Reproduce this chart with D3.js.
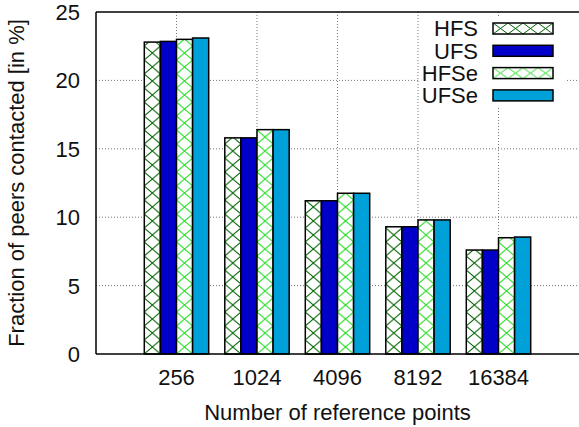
<!DOCTYPE html>
<html>
<head>
<meta charset="utf-8">
<script src="https://cdn.jsdelivr.net/npm/d3@7"></script>
<style>
  html, body { margin: 0; padding: 0; background: #fff; }
  svg { display: block; font-family: "Liberation Sans", Arial, sans-serif; }
</style>
</head>
<body>
<svg id="chart" width="579" height="427"></svg>
<script>
const categories = ["256", "1024", "4096", "8192", "16384"];
const seriesNames = ["HFS", "UFS", "HFSe", "UFSe"];
const HFS  = [22.8, 15.8, 11.2, 9.3, 7.6];
const UFS  = [22.85, 15.8, 11.2, 9.3, 7.6];
const HFSe = [23.0, 16.4, 11.75, 9.8, 8.5];
const UFSe = [23.1, 16.4, 11.75, 9.8, 8.55];
const yTicks = [0, 5, 10, 15, 20, 25];
const xLabel = "Number of reference points";
const yLabel = "Fraction of peers contacted [in %]";

const seriesValues = [HFS, UFS, HFSe, UFSe];
const styles = [
  { type: "pattern", stroke: "#006400" },
  { type: "solid", fill: "#0000c8" },
  { type: "pattern", stroke: "#22dd22" },
  { type: "solid", fill: "#00a0d8" }
];

const svg = d3.select("#chart");
const pLeft = 96, pRight = 579, pTop = 12, pBottom = 354;
const FS = 22;

const x = d3.scaleLinear().domain([-1, 5]).range([pLeft, pRight]);
const y = d3.scaleLinear().domain([0, 25]).range([pBottom, pTop]);
const barW = x(0.2) - x(0);

const defs = svg.append("defs");
function makePattern(id, stroke, ox, oy, w, h) {
  const p = defs.append("pattern")
    .attr("id", id)
    .attr("patternUnits", "userSpaceOnUse")
    .attr("x", ox).attr("y", oy)
    .attr("width", w).attr("height", h);
  p.append("rect").attr("width", w).attr("height", h).attr("fill", "#fff");
  p.append("path")
    .attr("d", `M0,0L${w},${h}M${w},0L0,${h}`)
    .attr("stroke", stroke).attr("stroke-width", 1).attr("fill", "none");
  return `url(#${id})`;
}

// grid lines
const grid = svg.append("g");
yTicks.filter(t => t > 0 && t < 25).forEach(t => {
  grid.append("line")
    .attr("x1", pLeft).attr("x2", pRight)
    .attr("y1", y(t)).attr("y2", y(t))
    .attr("stroke", "#777").attr("stroke-width", 1)
    .attr("stroke-dasharray", "1,2");
});
categories.forEach((c, i) => {
  grid.append("line")
    .attr("x1", x(i)).attr("x2", x(i))
    .attr("y1", pTop).attr("y2", pBottom)
    .attr("stroke", "#777").attr("stroke-width", 1)
    .attr("stroke-dasharray", "1,2");
});

// bars
const bars = svg.append("g");
seriesValues.forEach((vals, s) => {
  vals.forEach((v, i) => {
    const bx = x(i - 0.4 + 0.2 * s);
    const by = y(v);
    let fill;
    if (styles[s].type === "pattern") {
      fill = makePattern(`p${s}_${i}`, styles[s].stroke, bx, pBottom, barW, 14);
    } else {
      fill = styles[s].fill;
    }
    bars.append("rect")
      .attr("x", bx).attr("y", by)
      .attr("width", barW).attr("height", pBottom - by)
      .attr("fill", fill)
      .attr("stroke", "#000").attr("stroke-width", 1.5);
  });
});

// axes
const axes = svg.append("g").attr("stroke", "#000").attr("stroke-width", 1.5);
axes.append("line").attr("x1", pLeft).attr("x2", pRight).attr("y1", pBottom).attr("y2", pBottom);
axes.append("line").attr("x1", pLeft).attr("x2", pRight).attr("y1", pTop).attr("y2", pTop);
axes.append("line").attr("x1", pLeft).attr("x2", pLeft).attr("y1", pTop).attr("y2", pBottom);

// y tick labels
svg.append("g").selectAll("text").data(yTicks).join("text")
  .attr("x", 80).attr("y", d => y(d))
  .attr("dy", "0.36em")
  .attr("text-anchor", "end")
  .attr("font-size", FS)
  .attr("fill", "#111")
  .text(d => d);

// x tick labels
svg.append("g").selectAll("text").data(categories).join("text")
  .attr("x", (d, i) => x(i)).attr("y", 385)
  .attr("text-anchor", "middle")
  .attr("font-size", FS)
  .attr("fill", "#111")
  .text(d => d);

// axis labels
svg.append("text")
  .attr("x", (pLeft + pRight) / 2).attr("y", 420)
  .attr("text-anchor", "middle").attr("font-size", FS).attr("fill", "#111")
  .text(xLabel);
svg.append("text")
  .attr("transform", `translate(23.5,${(pTop + pBottom) / 2}) rotate(-90)`)
  .attr("text-anchor", "middle").attr("font-size", FS).attr("fill", "#111")
  .text(yLabel);

// legend
const lg = svg.append("g");
lg.append("rect").attr("x", 420).attr("y", 17).attr("width", 146).attr("height", 89).attr("fill", "#fff");
seriesNames.forEach((name, s) => {
  const cy = 28.5 + s * 22.3;
  lg.append("text")
    .attr("x", 478).attr("y", cy).attr("dy", "0.36em")
    .attr("text-anchor", "end").attr("font-size", FS).attr("fill", "#111")
    .text(name);
  let fill;
  if (styles[s].type === "pattern") {
    fill = makePattern(`lp${s}`, styles[s].stroke, 493, cy - 5.5, 15, 11);
  } else {
    fill = styles[s].fill;
  }
  lg.append("rect")
    .attr("x", 493).attr("y", cy - 5.5).attr("width", 60).attr("height", 11)
    .attr("fill", fill).attr("stroke", "#000").attr("stroke-width", 1.5);
});
</script>
</body>
</html>
